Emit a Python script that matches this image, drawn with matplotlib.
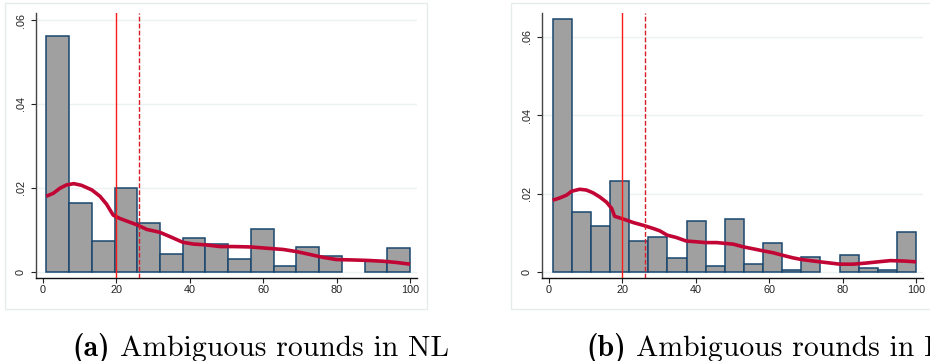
import numpy as np
import matplotlib
matplotlib.use("Agg")
import matplotlib.pyplot as plt
from matplotlib.patches import Rectangle

# ---------------- data ----------------
bin_range = (1, 100)

nl_heights = [0.0563, 0.0164, 0.0073, 0.0200, 0.0116, 0.0043, 0.0080, 0.0067,
              0.0031, 0.0103, 0.0013, 0.0060, 0.0037, 0.0, 0.0025, 0.0056]
l_heights = [0.0644, 0.0152, 0.0117, 0.0233, 0.0078, 0.0088, 0.0035, 0.0131,
             0.0015, 0.0136, 0.0020, 0.0073, 0.0006, 0.0039, 0.0, 0.0044,
             0.0011, 0.0006, 0.0103]

nl_kde_x = [1, 2.9, 4.7, 6.5, 8.5, 10.6, 13.4, 15.6, 17.4, 19.2, 21.0, 25.9,
            28.3, 31.9, 35.1, 38.2, 41.0, 44.4, 48.3, 51.9, 56.7, 61.0, 65.5,
            69.1, 72.8, 76.4, 80.0, 84.6, 88.2, 92.7, 96.3, 100]
nl_kde_y = [0.0180, 0.0187, 0.0199, 0.0207, 0.0210, 0.0206, 0.0195, 0.0180,
            0.0161, 0.0135, 0.0127, 0.0111, 0.0101, 0.0094, 0.0082, 0.0070,
            0.0066, 0.0064, 0.0060, 0.0060, 0.0059, 0.0056, 0.0053, 0.0048,
            0.0041, 0.0034, 0.0029, 0.0028, 0.0027, 0.0025, 0.0022, 0.0018]

l_kde_x = [1, 3.0, 4.8, 6.2, 8.4, 10.2, 12.0, 13.9, 15.7, 17.1, 17.9, 20.3,
           23.0, 25.7, 28.4, 30.2, 32.2, 34.7, 37.4, 40.2, 42.7, 45.7, 50.2,
           53.0, 55.7, 58.3, 61.1, 63.5, 66.5, 68.7, 72.0, 75.6, 79.2, 82.9,
           86.6, 89.7, 93.0, 96.6, 100]
l_kde_y = [0.0183, 0.0189, 0.0196, 0.0206, 0.0211, 0.0209, 0.0202, 0.0191,
           0.0178, 0.0162, 0.0142, 0.0135, 0.0126, 0.0119, 0.0111, 0.0105,
           0.0094, 0.0088, 0.0079, 0.0077, 0.0075, 0.0075, 0.0071, 0.0064,
           0.0059, 0.0054, 0.0049, 0.0043, 0.0036, 0.0032, 0.0028, 0.0024,
           0.0020, 0.0020, 0.0023, 0.0026, 0.0029, 0.0028, 0.0026]

median_line = 20.0
mean_line = 26.3

x_ticks = [0, 20, 40, 60, 80, 100]
x_ticklabels = ["0", "20", "40", "60", "80", "100"]
y_ticks = [0, 0.02, 0.04, 0.06]
y_ticklabels = ["0", ".02", ".04", ".06"]

caption_tags = ["(a)", "(b)"]
caption_texts = ["Ambiguous rounds in NL", "Ambiguous rounds in L"]

# ---------------- style ----------------
plt.rcParams["font.family"] = ["Liberation Sans", "DejaVu Sans"]

W, H = 930, 361
fig = plt.figure(figsize=(W / 100, H / 100), dpi=100)
fig.patch.set_facecolor("white")

bar_face = "#a0a0a0"
bar_edge = "#1a476f"
kde_col = "#c10534"
grid_col = "#eaf2f3"


def px_rect(x0, y0, x1, y1):
    return [x0 / W, 1 - y1 / H, (x1 - x0) / W, (y1 - y0) / H]


# outer panel boxes
for bx0, bx1 in [(5, 427), (511, 940)]:
    fig.patches.append(Rectangle((bx0 / W, 1 - 309 / H), (bx1 - bx0) / W, 306 / H,
                                 transform=fig.transFigure, facecolor="none",
                                 edgecolor="#e6eced", lw=1.0, zorder=0))

panels = [
    (px_rect(36, 13, 416.7, 278), nl_heights, nl_kde_x, nl_kde_y, (-0.0015, 0.0617)),
    (px_rect(542.3, 13, 922.7, 278), l_heights, l_kde_x, l_kde_y, (-0.00153, 0.06605)),
]

for rect, heights, kx, ky, ylim in panels:
    ax = fig.add_axes(rect)
    ax.set_zorder(2)
    ax.patch.set_alpha(0)
    n = len(heights)
    edges = np.linspace(bin_range[0], bin_range[1], n + 1)
    h = np.array(heights)
    mask = h > 0
    ax.bar(edges[:-1][mask], h[mask], width=np.diff(edges)[mask], align="edge",
           color=bar_face, edgecolor=bar_edge, linewidth=1.1, zorder=2)
    ax.plot(kx, ky, color=kde_col, lw=2.6, zorder=4, solid_capstyle="butt")
    ax.axvline(median_line, color="#ff1a1a", lw=1.0, zorder=5)
    ax.axvline(mean_line, color="#d81e2a", lw=1.0, dashes=(3.5, 1.5), zorder=5)
    for yt in y_ticks:
        ax.axhline(yt, color=grid_col, lw=1.0, zorder=1)
    ax.set_xlim(-1.8, 101.8)
    ax.set_ylim(*ylim)
    ax.set_xticks(x_ticks)
    ax.set_xticklabels(x_ticklabels)
    ax.set_yticks(y_ticks)
    ax.set_yticklabels(y_ticklabels, rotation=90, va="center")
    for s in ["top", "right"]:
        ax.spines[s].set_visible(False)
    ax.spines["left"].set_color("#444444")
    ax.spines["bottom"].set_color("#111111")
    ax.spines["left"].set_linewidth(1.0)
    ax.spines["bottom"].set_linewidth(1.0)
    ax.tick_params(axis="x", length=3.5, width=0.8, pad=1.5, labelsize=7.8,
                   colors="#222222")
    ax.tick_params(axis="y", length=3.5, width=0.8, pad=4, labelsize=7.8,
                   colors="#222222")

# captions: bold tag + regular text (Computer Modern)
renderer = fig.canvas.get_renderer()
cap_fs = 21.4
base_y = 1 - 355.5 / H
for x0, tag, txt in [(72.7, caption_tags[0], caption_texts[0]),
                     (586.7, caption_tags[1], caption_texts[1])]:
    t1 = fig.text(x0 / W, base_y, tag, fontsize=cap_fs, family="cmb10",
                  va="baseline", ha="left")
    bb = t1.get_window_extent(renderer)
    x1 = bb.x1 + 0.34 * cap_fs * 100 / 72
    fig.text(x1 / W, base_y, txt, fontsize=cap_fs, family="cmr10",
             va="baseline", ha="left")

fig.savefig("out.png", dpi=100, facecolor="white")
